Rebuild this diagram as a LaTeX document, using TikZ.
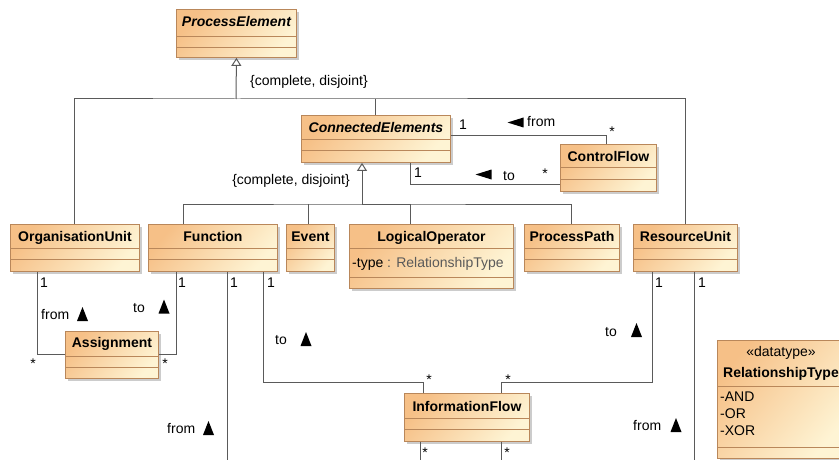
\documentclass[tikz,border=0pt]{standalone}
\usepackage{fontspec}
\setmainfont{Liberation Sans}
\usetikzlibrary{arrows.meta,shadows}

\definecolor{clsleft}{RGB}{246,192,135}
\definecolor{clsright}{RGB}{254,244,212}
\definecolor{clsborder}{RGB}{185,135,90}
\definecolor{assocline}{RGB}{90,90,90}
\definecolor{typegray}{RGB}{90,90,90}

\begin{document}
\begin{tikzpicture}
  [x=1pt,y=-1pt,every node/.style={inner sep=0pt,font=\fontsize{14}{16}\selectfont}]

  \tikzstyle{cls} = [draw=clsborder,line width=0.9pt,top color=clsleft,bottom color=clsright,shading angle=50,
                     anchor=north west,drop shadow={shadow xshift=3pt,shadow yshift=-3pt,fill=black!40,opacity=0.5}]
  \tikzstyle{title} = [font=\fontsize{14}{16}\selectfont\bfseries,anchor=base]
  \tikzstyle{abstract} = [font=\fontsize{14}{16}\selectfont\bfseries\itshape,anchor=base]
  \tikzstyle{comp} = [draw=clsborder,line width=0.9pt]
  \tikzstyle{assoc} = [draw=assocline,line width=1pt]
  \tikzstyle{gen} = [assoc,-{Triangle[open,width=10pt,length=8pt]}]
  \tikzstyle{lbl} = [anchor=base west]
  \tikzstyle{many} = [anchor=north]
  \tikzset{uptri/.pic={\fill (-5.5,7) -- (5.5,7) -- (0,-7) -- cycle;},
           lefttri/.pic={\fill (8,-5) -- (8,5) -- (-8,0) -- cycle;}}

  \useasboundingbox (0,0) rectangle (839,460);
  \clip (0,0) rectangle (839,460);

  % classes
  \node[cls,minimum width=120pt,minimum height=48pt]  (pe) at (176,9)   {};
  \node[cls,minimum width=149pt,minimum height=47pt]  (ce) at (301,115) {};
  \node[cls,minimum width=96pt,minimum height=47pt]   (cf) at (560,144) {};
  \node[cls,minimum width=129pt,minimum height=47pt]  (ou) at (10,224)  {};
  \node[cls,minimum width=129pt,minimum height=47pt]  (fn) at (148,224) {};
  \node[cls,minimum width=48pt,minimum height=47pt]   (ev) at (286,224) {};
  \node[cls,minimum width=164pt,minimum height=64pt]  (lo) at (349,224) {};
  \node[cls,minimum width=95pt,minimum height=47pt]   (pp) at (524,224) {};
  \node[cls,minimum width=104pt,minimum height=47pt]  (ru) at (633,224) {};
  \node[cls,minimum width=93pt,minimum height=47pt]   (as) at (65,331)  {};
  \node[cls,minimum width=125pt,minimum height=48pt]  (if) at (404,393) {};
  \node[cls,minimum width=128pt,minimum height=118pt] (rt) at (717,340) {};

  % compartments
  \foreach \c/\a/\b in {pe/27/38,ce/24/35,cf/23/35,ou/24/35,fn/24/35,ev/24/35,lo/24/53,
                        pp/24/35,ru/24/35,as/25/36,if/25/36,rt/46/107}
    \draw[comp] ([yshift=-\a]\c.north west) -- ([yshift=-\a]\c.north east)
                ([yshift=-\b]\c.north west) -- ([yshift=-\b]\c.north east);

  % class names
  \node[abstract] (pe-t) at ([yshift=-18]pe.north) {ProcessElement};
  \node[abstract] (ce-t) at ([yshift=-17]ce.north) {ConnectedElements};
  \node[title] (cf-t) at ([yshift=-17]cf.north) {ControlFlow};
  \node[title] (ou-t) at ([yshift=-17]ou.north) {OrganisationUnit};
  \node[title] (fn-t) at ([yshift=-17]fn.north) {Function};
  \node[title] (ev-t) at ([yshift=-17]ev.north) {Event};
  \node[title] (lo-t) at ([yshift=-17]lo.north) {LogicalOperator};
  \node[title] (pp-t) at ([yshift=-17]pp.north) {ProcessPath};
  \node[title] (ru-t) at ([yshift=-17]ru.north) {ResourceUnit};
  \node[title] (as-t) at ([yshift=-16]as.north) {Assignment};
  \node[title] (if-t) at ([yshift=-18]if.north) {InformationFlow};
  \node[anchor=base] (rt-s) at (781,356) {«datatype»};
  \node[title] (rt-t) at (781,377) {RelationshipType};

  % attributes and literals
  \node[lbl] (lo-a) at (352,267) {-type \textcolor{typegray}{: RelationshipType}};
  \node[lbl] (rt-a) at (720,401) {-AND};
  \node[lbl] (rt-o) at (720,418) {-OR};
  \node[lbl] (rt-x) at (720,435) {-XOR};

  % generalisations
  \coordinate (j1) at (236,99);
  \coordinate (j2) at (362,204);
  \draw[assoc] (ou.north) |- (j1) -| (ru.north);
  \draw[assoc] (ce.north) -- (ce.north |- j1);
  \draw[gen] (j1) -- (pe.south);
  \draw[assoc] (fn.north -| 183,0) |- (j2) -| (pp.north);
  \draw[assoc] (ev.north -| 308,0) -- (308,0 |- j2);
  \draw[assoc] (lo.north -| 410,0) |- (j2);
  \draw[gen] (j2) -- (j2 |- ce.south);
  \node[lbl] (gs1) at (250,86) {\{complete, disjoint\}};
  \node[anchor=base east] (gs2) at (350,184) {\{complete, disjoint\}};

  % associations
  \draw[assoc] (ce.east |- 0,135) -| (cf.north -| 606,0);
  \draw[assoc] (ce.south -| 410,0) |- (cf.west |- 0,184);
  \draw[assoc] (ou.south -| 37,0) |- (as.west |- 0,354);
  \draw[assoc] (fn.south -| 176,0) |- (as.east |- 0,354);
  \draw[assoc] (fn.south -| 263,0) |- (423,382) -- (if.north -| 423,0);
  \draw[assoc] (ru.south -| 652,0) |- (501,382) -- (if.north -| 501,0);
  \coordinate (fn-end) at (227,465);
  \coordinate (ru-end) at (694,465);
  \coordinate (if-end1) at (420,465);
  \coordinate (if-end2) at (501,465);
  \draw[assoc] (fn.south -| 227,0) -- (fn-end);
  \draw[assoc] (ru.south -| 694,0) -- (ru-end);
  \draw[assoc] (if.south -| 420,0) -- (if-end1);
  \draw[assoc] (if.south -| 501,0) -- (if-end2);

  % association names
  \node[lbl] (cf-from) at (527,127) {from};
  \pic at (515.5,122.5) {lefttri};
  \node[lbl] (cf-to) at (503,180) {to};
  \pic at (483.5,174.5) {lefttri};
  \node[lbl] (ou-from) at (41,319) {from};
  \pic at (82.5,314) {uptri};
  \node[lbl] (as-to) at (133,312) {to};
  \pic at (164,306.5) {uptri};
  \node[lbl] (fn-from) at (167,433) {from};
  \pic at (208.5,428) {uptri};
  \node[lbl] (if-to1) at (275,344) {to};
  \pic at (306,339) {uptri};
  \node[lbl] (if-to2) at (605,336) {to};
  \pic at (636.5,330) {uptri};
  \node[lbl] (ru-from) at (633,430) {from};
  \pic at (676,425) {uptri};

  % multiplicities
  \foreach \x/\y [count=\i] in {463/124.5,418/173,44/283,182/283,234/283,271/283,659/283,702/283}
    \node (one-\i) at (\x,\y) {1};
  \foreach \x/\y [count=\i] in {612/127,545/169,33/359,165/359,429/375,508/375,425/448,507/448}
    \node[many] (star-\i) at (\x,\y) {*};
\end{tikzpicture}
\end{document}
